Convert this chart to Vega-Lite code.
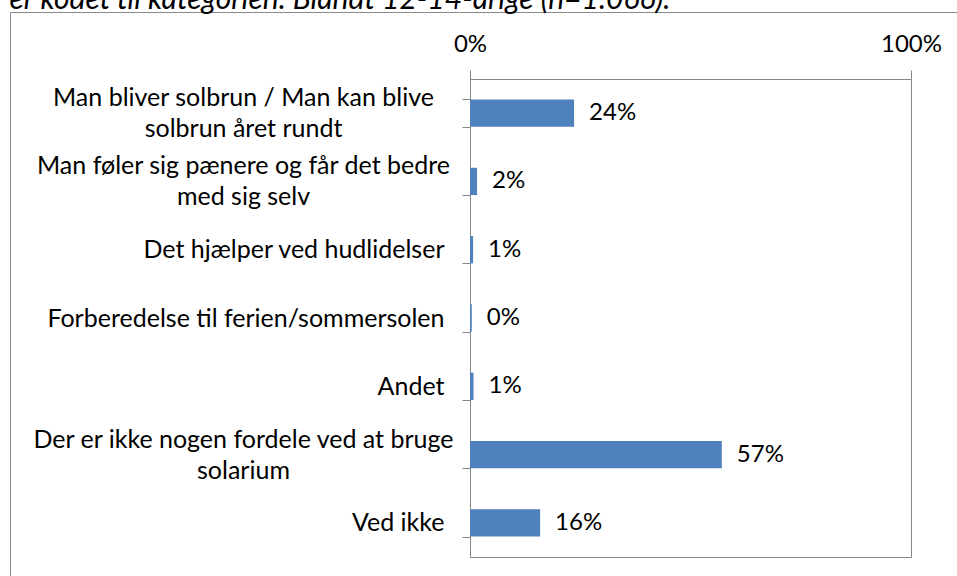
{
  "$schema": "https://vega.github.io/schema/vega-lite/v6.json",
  "width": 957,
  "height": 576,
  "autosize": {"type": "none"},
  "padding": {"left": 10, "top": 12, "right": -10, "bottom": -12},
  "data": {
    "values": [
      {"kategori": "Man bliver solbrun / Man kan blive|solbrun året rundt", "andel": 0.236},
      {"kategori": "Man føler sig pænere og får det bedre|med sig selv", "andel": 0.016},
      {"kategori": "Det hjælper ved hudlidelser", "andel": 0.007},
      {"kategori": "Forberedelse til ferien/sommersolen", "andel": 0.004},
      {"kategori": "Andet", "andel": 0.008},
      {"kategori": "Der er ikke nogen fordele ved at bruge|solarium", "andel": 0.571},
      {"kategori": "Ved ikke", "andel": 0.159}
    ]
  },
  "layer": [
    {
      "mark": {"type": "bar", "color": "#4F81BD"},
      "encoding": {
        "y": {
          "field": "kategori",
          "type": "nominal",
          "sort": null,
          "scale": {"range": [67, 545], "paddingInner": 0.6, "paddingOuter": 0.3},
          "axis": {
            "title": null,
            "orient": "left",
            "offset": -460,
            "tickBand": "extent",
            "tickSize": 8,
            "tickColor": "#868686",
            "domainColor": "#868686",
            "grid": false,
            "labelExpr": "indexof(datum.label, '|') >= 0 ? '' : datum.label",
            "labelAlign": "right",
            "labelPadding": 18,
            "labelBaseline": "middle",
            "labelFont": "Lato",
            "labelFontSize": 25,
            "labelColor": "#000000",
            "labelLimit": 0,
            "labelOverlap": false
          }
        },
        "x": {
          "field": "andel",
          "type": "quantitative",
          "scale": {"domain": [0, 1], "range": [460, 901], "nice": false},
          "axis": {
            "title": "er kodet til kategorien. Blandt 12-14-årige (n=1.066).",
            "titleX": -1,
            "titleY": -71,
            "titleAlign": "left",
            "titleAnchor": "start",
            "titleBaseline": "alphabetic",
            "titleFont": "Lato",
            "titleFontStyle": "italic",
            "titleFontWeight": "normal",
            "titleFontSize": 30,
            "titleColor": "#000000",
            "titleLimit": 0,
            "orient": "top",
            "offset": -67,
            "values": [0, 1],
            "format": ".0%",
            "tickSize": 9,
            "tickColor": "#868686",
            "domainColor": "#868686",
            "grid": true,
            "gridColor": "#868686",
            "gridOpacity": 1,
            "labelFont": "Lato",
            "labelFontSize": 24,
            "labelColor": "#000000",
            "labelBaseline": "alphabetic",
            "labelPadding": 19,
            "labelFlush": false,
            "labelOverlap": false
          }
        }
      }
    },
    {
      "mark": {"type": "text", "align": "left", "baseline": "middle", "dx": 15, "font": "Lato", "fontSize": 24, "color": "#000000"},
      "encoding": {
        "y": {
          "field": "kategori",
          "type": "nominal",
          "sort": null,
          "axis": {
            "title": null,
            "orient": "left",
            "offset": -460,
            "ticks": false,
            "tickSize": 0,
            "domain": false,
            "grid": false,
            "labelExpr": "indexof(datum.label, '|') >= 0 ? split(datum.label, '|') : ''",
            "labelAlign": "center",
            "labelPadding": 227,
            "labelOffset": -15,
            "labelBaseline": "middle",
            "labelFont": "Lato",
            "labelFontSize": 25,
            "labelLineHeight": 31,
            "labelColor": "#000000",
            "labelLimit": 0,
            "labelOverlap": false
          }
        },
        "x": {
          "field": "andel",
          "type": "quantitative",
          "axis": {
            "title": null,
            "orient": "bottom",
            "offset": -31,
            "domain": true,
            "domainColor": "#868686",
            "ticks": false,
            "labels": false,
            "grid": false
          }
        },
        "text": {"field": "andel", "type": "quantitative", "format": ".0%"}
      }
    }
  ],
  "resolve": {"axis": {"x": "independent", "y": "independent"}},
  "config": {
    "view": {"stroke": "#8a8a8a", "strokeWidth": 1}
  }
}
